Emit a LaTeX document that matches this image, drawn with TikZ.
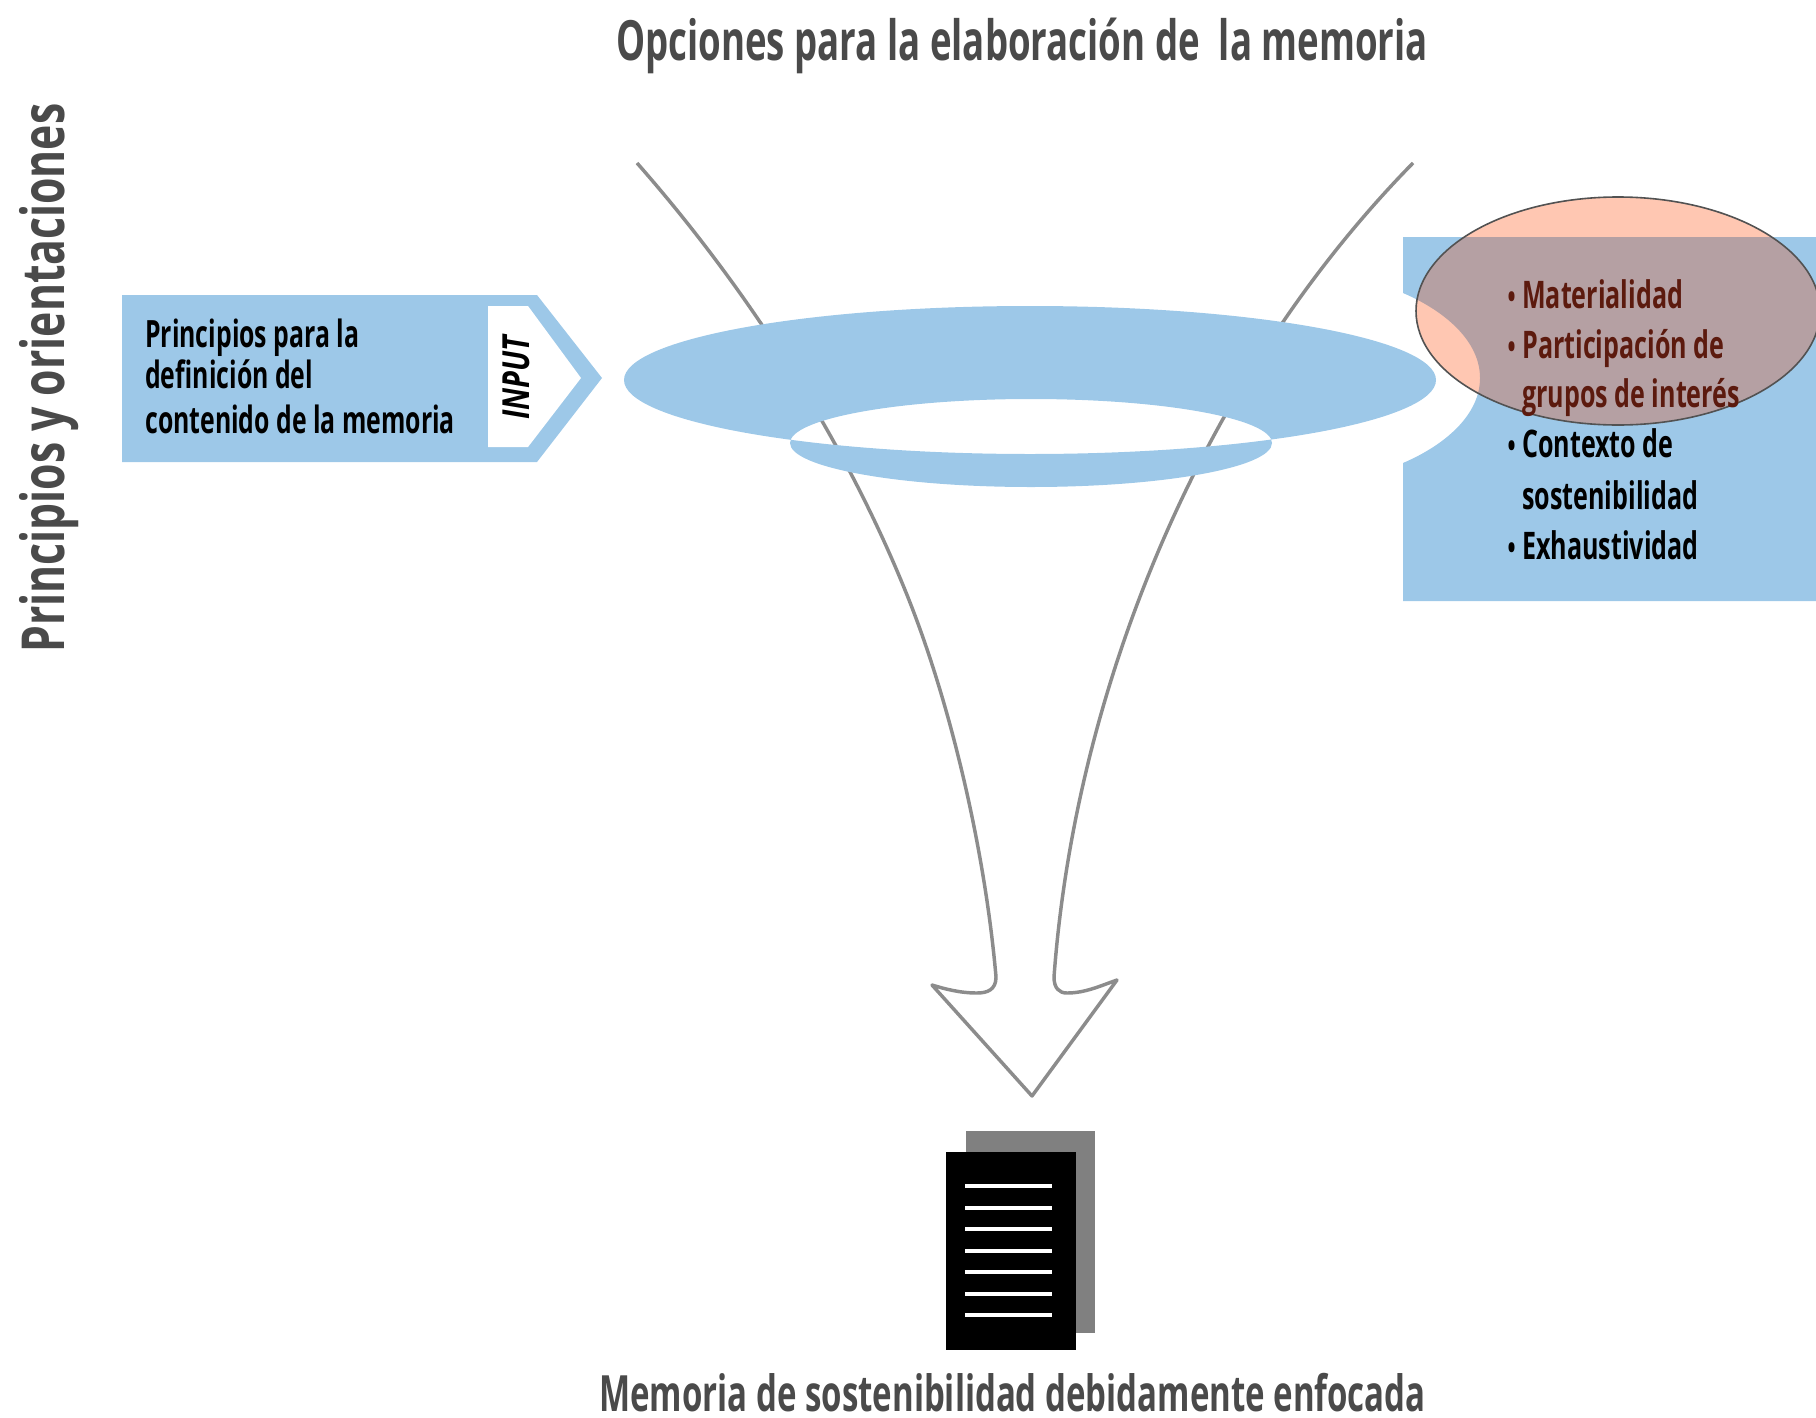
\documentclass[tikz,border=0pt]{standalone}
\usepackage{fontspec}
\setmainfont{Open Sans}[FakeStretch=0.66]
\newfontfamily\sidefont{Open Sans}[FakeStretch=0.72]
\newfontfamily\inpfont{Open Sans}[FakeStretch=0.78]
\definecolor{skyb}{HTML}{9DC8E8}
\definecolor{salm}{HTML}{FFC7B2}
\definecolor{mauv}{HTML}{B5A0A3}
\definecolor{dred}{HTML}{5C1A0E}
\definecolor{head}{HTML}{4A4A4A}
\definecolor{funl}{HTML}{8C8C8C}
\tikzset{
  headtxt/.style={inner sep=0pt,text=head,anchor=base,font=\bfseries\fontsize{41.6pt}{46pt}\selectfont},
  boxtxt/.style={inner sep=0pt,anchor=base west,text=black,font=\bfseries\fontsize{28.2pt}{32pt}\selectfont},
  listtxt/.style={boxtxt,font=\bfseries\fontsize{28.5pt}{32pt}\selectfont},
  redtxt/.style={listtxt,text=dred},
  funline/.style={draw=funl,line width=2.6pt,line join=round},
  docline/.style={draw=white,line width=3pt}
}
\newcommand{\bul}{\llap{\scalebox{.85}{\textbullet}\hspace{5pt}}}
\begin{document}
\begin{tikzpicture}[x=0.75pt,y=-0.75pt]
\useasboundingbox (0,0) rectangle (1816,1417);
\clip (0,0) rectangle (1816,1417);
% funnel
\draw[funline] (637,163) .. controls (740,280) and (840,430) .. (905,590)
  .. controls (950,700) and (985,850) .. (996,977)
  .. controls (996,990) and (987,993) .. (977,993) .. controls (960,993) and (945,989) .. (932,985)
  -- (1032,1096) -- (1117,980) .. controls (1100,986) and (1085,993) .. (1067,993)
  .. controls (1059,993) and (1054,988) .. (1054,977)
  .. controls (1075,690) and (1200,380) .. (1413,163);
% ring
\fill[skyb,even odd rule] (1030,380) ellipse [x radius=406,y radius=74] (1031,443) ellipse [x radius=241,y radius=44];
% input arrow
\fill[skyb] (122,295) -- (537,295) -- (602,378) -- (537,462) -- (122,462) -- cycle;
\fill[white] (488,306) -- (528,306) -- (581,378) -- (528,447) -- (488,447) -- cycle;
% right block
\fill[skyb] (1403,237) -- (1816,237) -- (1816,601) -- (1403,601) -- (1403,463)
  .. controls (1445,445) and (1480,415) .. (1480,378) .. controls (1480,341) and (1445,311) .. (1403,293) -- cycle;
\node[listtxt] (cont) at (1522,457) {\bul Contexto de};
\node[listtxt] (sost) at (1522,509) {sostenibilidad};
\node[listtxt] (exha) at (1522,559) {\bul Exhaustividad};
% oval
\begin{scope}
\clip (1618,311) ellipse [x radius=202,y radius=114];
\fill[salm] (1400,190) rectangle (1830,430);
\fill[mauv] (1403,237) -- (1830,237) -- (1830,601) -- (1403,601) -- (1403,463)
  .. controls (1445,445) and (1480,415) .. (1480,378) .. controls (1480,341) and (1445,311) .. (1403,293) -- cycle;
\end{scope}
\draw[draw=black!68,line width=1.2pt] (1618,311) ellipse [x radius=202,y radius=114];
\node[redtxt] (mate) at (1522,308) {\bul Materialidad};
\node[redtxt] (part) at (1522,358) {\bul Participación de};
\node[redtxt] (grup) at (1522,407) {grupos de interés};
% input text
\node[boxtxt] (pl1) at (145,347) {Principios para la};
\node[boxtxt] (pl2) at (145,388) {definición del};
\node[boxtxt] (pl3) at (145,433) {contenido de la memoria};
\node[inner sep=0pt,rotate=90,text=black,font=\inpfont\bfseries\itshape\fontsize{28pt}{32pt}\selectfont] (inp) at (516,378) {INPUT};
% headings
\node[headtxt] (title) at (1022,60) {Opciones para la elaboración de\ \ la memoria};
\node[headtxt,rotate=90,font=\sidefont\bfseries\fontsize{44.5pt}{50pt}\selectfont,anchor=base] (side) at (64,378) {Principios y orientaciones};
\node[headtxt,font=\bfseries\fontsize{37.5pt}{42pt}\selectfont] (foot) at (1012.5,1411) {Memoria de sostenibilidad debidamente enfocada};
% document icon
\fill[black!50] (966,1131) rectangle (1095,1333);
\fill[black] (946,1152) rectangle (1076,1350);
\foreach \yy in {1186,1208,1229,1251,1272,1294,1315}
  \draw[docline] (965,\yy) -- (1052,\yy);
\end{tikzpicture}
\end{document}
